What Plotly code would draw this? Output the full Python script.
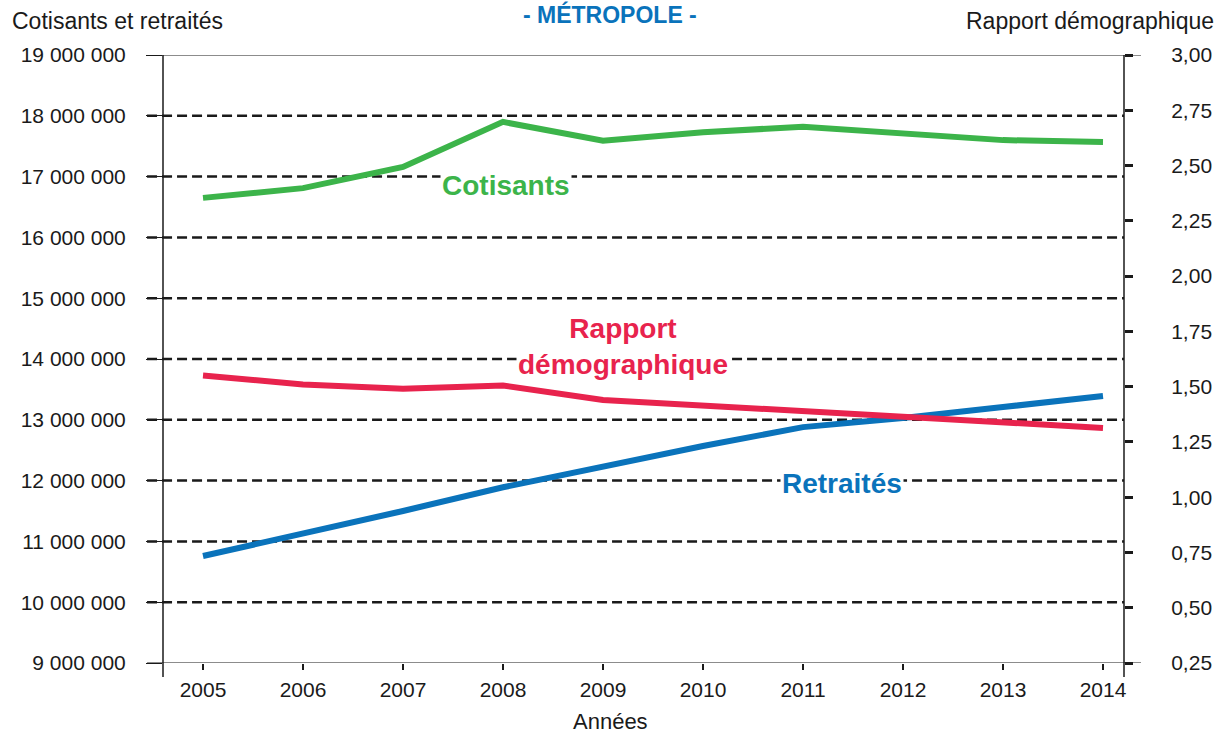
import plotly.graph_objects as go

annees = [2005, 2006, 2007, 2008, 2009, 2010, 2011, 2012, 2013, 2014]
cotisants = [16650000, 16810000, 17160000, 17900000, 17590000, 17730000, 17820000, 17720000, 17600000, 17570000]
retraites = [10760000, 11120000, 11500000, 11890000, 12240000, 12570000, 12880000, 13030000, 13210000, 13390000]
rapport = [1.55, 1.51, 1.49, 1.505, 1.44, 1.415, 1.385, 1.36, 1.335, 1.313]

left_ticks = [9000000 + 1000000 * i for i in range(11)]
left_labels = ["9 000 000", "10 000 000", "11 000 000", "12 000 000", "13 000 000", "14 000 000",
               "15 000 000", "16 000 000", "17 000 000", "18 000 000", "19 000 000"]
right_ticks = [0.25, 0.5, 0.75, 1.0, 1.25, 1.5, 1.75, 2.0, 2.25, 2.5, 2.75, 3.0]
right_labels = ["0,25", "0,50", "0,75", "1,00", "1,25", "1,50", "1,75", "2,00", "2,25", "2,50", "2,75", "3,00"]
grid_vals = left_ticks[1:-1]

GREEN = "#3cb44a"
BLUE = "#0a73bb"
RED = "#e8234d"
FONT = "Liberation Sans"

fig = go.Figure()
fig.add_trace(go.Scatter(x=annees, y=cotisants, mode="lines", line=dict(color=GREEN, width=6),
                         yaxis="y", showlegend=False))
fig.add_trace(go.Scatter(x=annees, y=retraites, mode="lines", line=dict(color=BLUE, width=6),
                         yaxis="y", showlegend=False))
fig.add_trace(go.Scatter(x=annees, y=rapport, mode="lines", line=dict(color=RED, width=6),
                         yaxis="y2", showlegend=False))

shapes = []
for v in grid_vals:
    shapes.append(dict(type="line", xref="paper", yref="y", x0=-0.0166, x1=1.0, y0=v, y1=v,
                       line=dict(color="#1a1a1a", width=2.5, dash="10px,5px"), layer="below"))
for v in [left_ticks[0], left_ticks[-1]]:
    shapes.append(dict(type="line", xref="paper", yref="y", x0=-0.0166, x1=1.0177, y0=v, y1=v,
                       line=dict(color="#1a1a1a", width=1.2), layer="below"))
for xp in [0.0, 1.0]:
    shapes.append(dict(type="line", xref="paper", yref="paper", x0=xp, x1=xp, y0=-0.023, y1=1.0,
                       line=dict(color="#1a1a1a", width=1.5), layer="below"))

lab_font = dict(family=FONT, size=28)
annotations = [
    dict(x=2008.03, y=16860000, xref="x", yref="y", text="<b>Cotisants</b>", showarrow=False,
         font=dict(color=GREEN, **lab_font), bgcolor="white"),
    dict(x=2009.2, y=14200000, xref="x", yref="y", text="<b>Rapport<br>démographique</b>", showarrow=False,
         font=dict(color=RED, **lab_font), bgcolor="white"),
    dict(x=2011.39, y=11960000, xref="x", yref="y", text="<b>Retraités</b>", showarrow=False,
         font=dict(color=BLUE, **lab_font), bgcolor="white"),
    dict(x=-0.1589, y=1.0, xref="paper", yref="paper", xanchor="left", yanchor="middle", yshift=34,
         text="Cotisants et retraités", showarrow=False, font=dict(family=FONT, size=23, color="#1a1a1a")),
    dict(x=1.0955, y=1.0, xref="paper", yref="paper", xanchor="right", yanchor="middle", yshift=34,
         text="Rapport démographique", showarrow=False, font=dict(family=FONT, size=23, color="#1a1a1a")),
    dict(x=0.4654, y=1.0, xref="paper", yref="paper", xanchor="center", yanchor="middle", yshift=41,
         text="<b>- MÉTROPOLE -</b>", showarrow=False, font=dict(family=FONT, size=23, color=BLUE)),
    dict(x=0.4652, y=-0.097, xref="paper", yref="paper", xanchor="center", yanchor="middle",
         text="Années", showarrow=False, font=dict(family=FONT, size=22, color="#1a1a1a")),
]

fig.update_layout(
    width=1224, height=733,
    margin=dict(l=163, r=98, t=55, b=70),
    paper_bgcolor="white", plot_bgcolor="white",
    font=dict(family=FONT, color="#1a1a1a"),
    xaxis=dict(range=[2004.6, 2014.21], tickvals=annees, ticktext=[str(a) for a in annees],
               ticks="outside", ticklen=6, tickwidth=2, tickcolor="#1a1a1a",
               showgrid=False, zeroline=False, showline=False,
               tickfont=dict(size=21, family=FONT, color="#1a1a1a"), ticklabelstandoff=2),
    yaxis=dict(range=[9000000, 19000000], tickvals=left_ticks, ticktext=left_labels,
               ticks="outside", ticklen=16, tickwidth=1.2, tickcolor="#1a1a1a",
               showgrid=False, zeroline=False, showline=False,
               tickfont=dict(size=21, family=FONT, color="#1a1a1a"), ticklabelstandoff=16),
    yaxis2=dict(range=[0.25, 3.0], tickvals=right_ticks, ticktext=right_labels,
                overlaying="y", side="right",
                ticks="outside", ticklen=8, tickwidth=3, tickcolor="#1a1a1a",
                showgrid=False, zeroline=False, showline=False,
                tickfont=dict(size=21, family=FONT, color="#1a1a1a"), ticklabelstandoff=34),
    shapes=shapes,
    annotations=annotations,
)

fig.write_html("out.html", config={"displayModeBar": False},
               post_script="document.body.style.margin='0px';document.body.style.overflow='hidden';")
